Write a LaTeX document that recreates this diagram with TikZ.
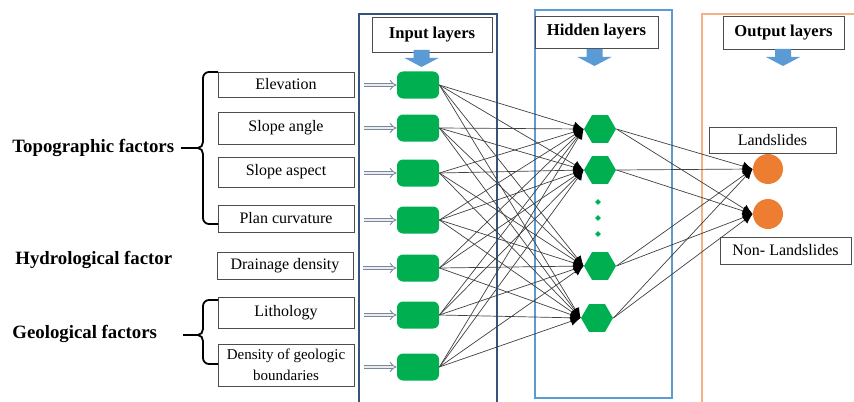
\documentclass[tikz,border=0pt]{standalone}
\usepackage{fontspec}
\setmainfont{Liberation Serif}
\usetikzlibrary{calc}
\usetikzlibrary{shapes.geometric}
\usetikzlibrary{arrows.meta}

\definecolor{nngreen}{RGB}{0,176,80}
\definecolor{nnorange}{RGB}{237,125,49}
\definecolor{inblue}{RGB}{52,84,125}
\definecolor{hidblue}{RGB}{91,155,213}
\definecolor{outpeach}{RGB}{244,177,131}
\definecolor{feedgray}{RGB}{120,136,160}

\begin{document}
\begin{tikzpicture}[x=0.5pt,y=-0.5pt,
    factor/.style={draw=black!70, line width=0.4pt, minimum width=68pt, inner sep=1pt, font=\fontsize{8}{9}\selectfont, align=center},
    group/.style={anchor=west, inner sep=0pt, font=\bfseries\fontsize{9.4}{11}\selectfont},
    title/.style={draw=black!70, fill=white, line width=0.4pt, font=\bfseries\fontsize{8.3}{10}\selectfont},
    inunit/.style={fill=nngreen, rounded corners=3pt, minimum width=21pt, minimum height=13.5pt},
    hidunit/.style={fill=nngreen, regular polygon, regular polygon sides=6, minimum size=16pt, inner sep=0pt},
    outunit/.style={fill=nnorange, circle, minimum size=15pt, inner sep=0pt},
    link/.style={draw=black!75, line width=0.35pt, -{Latex[length=5pt,width=4.5pt,color=black]}},
    feed/.style={draw=feedgray, double=gray!15, double distance=1.3pt, line width=0.45pt, -{Implies}, shorten <=5pt},
    curly/.style={draw=black, line width=0.9pt},
    blockarrow/.pic={\fill[hidblue] (-8,0) -- (8,0) -- (8,8) -- (17,8) -- (0,17) -- (-17,8) -- (-8,8) -- cycle;}
  ]
    \useasboundingbox (0,0) rectangle (854,401);

    % Draw the layer frames
    \draw[inblue, line width=1.1pt] (359,14) rectangle (497,410);
    \draw[hidblue, line width=1pt] (535,10) rectangle (672,398);
    \draw[outpeach, line width=1pt] (702,14) rectangle (870,410);

    % Layer titles and their arrows
    \node[title, minimum width=60pt, minimum height=17.5pt] (Tin) at (432,34.5) {Input layers};
    \node[title, minimum width=61.5pt, minimum height=16pt] (Thid) at (596.5,32) {Hidden layers};
    \node[title, minimum width=60.5pt, minimum height=16.5pt] (Tout) at (783.5,32.5) {Output layers};
    \pic at (421.5,50) {blockarrow};
    \pic at (594.5,49) {blockarrow};
    \pic at (783,49) {blockarrow};

    % Conditioning factors
    \node[factor, minimum height=12.5pt] (F1) at (286,84.5) {Elevation};
    \node[factor, minimum height=16pt] (F2) at (286,128) {Slope angle};
    \node[factor, minimum height=15pt] (F3) at (286,172) {Slope aspect};
    \node[factor, minimum height=13.5pt] (F4) at (286,218.5) {Plan curvature};
    \node[factor, minimum height=13.5pt] (F5) at (285,265.5) {Drainage density};
    \node[factor, minimum height=15.5pt] (F6) at (286,312.5) {Lithology};
    \node[factor, minimum height=21pt, font=\fontsize{7.5}{10.5}\selectfont] (F7) at (286,365) {Density of geologic\\boundaries};

    % Factor groups with braces
    \node[group] (G1) at (12,148) {Topographic factors};
    \node[group] (G2) at (15,260) {Hydrological factor};
    \node[group] (G3) at (12,334) {Geological factors};
    \coordinate (B1) at (198,148);
    \coordinate (B3) at (198,335);
    \draw[curly] (218,72) -- (209,72) to[out=180,in=90] (203,78) -- (203,142) to[out=-90,in=0] (B1)
                 to[out=0,in=90] (203,154) -- (203,218) to[out=-90,in=180] (209,224) -- (218,224);
    \draw[curly] (218,300) -- (209,300) to[out=180,in=90] (203,306) -- (203,329) to[out=-90,in=0] (B3)
                 to[out=0,in=90] (203,341) -- (203,358) to[out=-90,in=180] (209,364) -- (218,364);
    \draw[curly, shorten <=3pt] (G1.east) -- (B1);
    \draw[curly] (183,335) -- (B3);

    % Input units
    \node[inunit] (I1) at (418,85) {};
    \node[inunit] (I2) at (418,128) {};
    \node[inunit] (I3) at (418,173) {};
    \node[inunit] (I4) at (418,220) {};
    \node[inunit] (I5) at (418,268) {};
    \node[inunit] (I6) at (418,315) {};
    \node[inunit] (I7) at (418,367) {};

    % Hidden units
    \node[hidunit] (H1) at (600,129) {};
    \node[hidunit] (H2) at (600,170) {};
    \node[hidunit] (H3) at (600,266) {};
    \node[hidunit] (H4) at (597,318) {};
    \node[diamond, fill=nngreen, inner sep=0pt, minimum size=3pt] (D1) at (598,202) {};
    \node[diamond, fill=nngreen, inner sep=0pt, minimum size=3pt] (D2) at (598,218) {};
    \node[diamond, fill=nngreen, inner sep=0pt, minimum size=3pt] (D3) at (598,234) {};

    % Output units
    \node[outunit] (O1) at (768,169) {};
    \node[outunit] (O2) at (768,214) {};
    \node[factor, minimum width=63.5pt, minimum height=13pt] (L1) at (772.5,140) {Landslides};
    \node[factor, minimum width=65.5pt, minimum height=13.5pt] (L2) at (785.5,250.5) {Non- Landslides};

    % Draw the connections
    \foreach \i in {1,...,7}
      \draw[feed] (F\i.east |- I\i.west) -- (I\i.west);
    \foreach \i in {1,...,7}
      \foreach \j in {1,...,4}
        \draw[link] (I\i.east) -- (H\j.west);
    \foreach \j in {1,...,4}
      \foreach \k in {1,2}
        \draw[link] (H\j.east) -- (O\k.west);
\end{tikzpicture}
\end{document}
